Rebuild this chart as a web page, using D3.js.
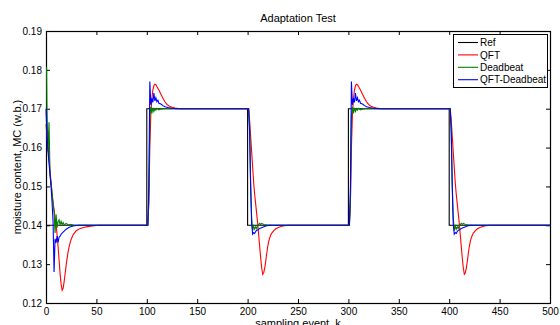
<!DOCTYPE html>
<html>
<head>
<meta charset="utf-8">
<script src="https://cdn.jsdelivr.net/npm/d3@7"></script>
<style>
body { margin: 0; background: #fff; }
svg { display: block; font-family: "Liberation Sans", Arial, sans-serif; }
</style>
</head>
<body>
<svg id="chart" width="560" height="325"></svg>
<script>
// reference set-point: level held from each step time
const stepK = [0, 100, 200, 300, 400, 500];
const refLevel = [0.14, 0.17, 0.14, 0.17, 0.14, 0.14];

// responses: [samples after step, moisture content]
const qftStart = [[0,0.166],[1,0.163],[2,0.16],[3,0.157],[4,0.154],[5,0.151],[6,0.148],[7,0.146],[8,0.144],[9,0.142],[10,0.1402],[11,0.1375],[12,0.1345],[13,0.131],[14,0.1275],[15,0.1248],[16,0.1233],[17,0.1238],[18,0.1255],[19,0.1276],[20,0.1297],[21,0.1316],[22,0.1333],[23,0.1346],[24,0.1356],[25,0.1364],[27,0.1376],[30,0.1386],[34,0.1392],[40,0.1396],[46,0.1398],[52,0.14]];
const qftRise = [[0,0.14],[1,0.14],[2,0.146],[3,0.16],[4,0.1685],[5,0.1725],[6,0.1748],[7,0.1759],[8,0.1763],[9,0.1762],[10,0.1757],[12,0.1748],[14,0.1737],[16,0.1727],[18,0.1718],[20,0.1711],[22,0.1707],[25,0.1704],[28,0.1702],[33,0.17]];
const qftFall = [[0,0.17],[1,0.17],[2,0.167],[3,0.163],[4,0.159],[5,0.155],[6,0.151],[7,0.148],[8,0.1455],[9,0.143],[10,0.1405],[11,0.1375],[12,0.1345],[13,0.1315],[14,0.129],[15,0.1274],[16,0.1278],[17,0.129],[18,0.1308],[19,0.1328],[20,0.1346],[21,0.1359],[22,0.1368],[23,0.1375],[24,0.138],[26,0.1386],[28,0.1391],[31,0.1395],[35,0.1398],[40,0.14]];

const dbStart = [[0,0.1805],[0.6,0.1805],[1,0.1695],[2,0.159],[3,0.1665],[4,0.153],[5,0.151],[6,0.1485],[7,0.1455],[8,0.1435],[9,0.138],[10,0.1428],[11,0.1394],[12,0.1409],[13,0.1414],[14,0.1401],[15,0.141],[16,0.1402],[17,0.1407],[18,0.1401],[20,0.1405],[22,0.1401],[25,0.1402],[28,0.14]];
const dbRise = [[0,0.14],[1,0.14],[2,0.146],[3,0.168],[4,0.1705],[5,0.1688],[6,0.1702],[7,0.1693],[8,0.17],[9,0.1696],[10,0.1701],[12,0.1697],[14,0.1699],[17,0.17]];
const dbFall = [[0,0.17],[1,0.17],[2,0.165],[3,0.151],[4,0.142],[5,0.1386],[6,0.1398],[7,0.139],[8,0.1396],[9,0.1392],[10,0.14],[11,0.1402],[12,0.1405],[13,0.1402],[14,0.1405],[16,0.1402],[19,0.1401],[24,0.14]];

const qdStart = [[0,0.17],[1,0.163],[2,0.159],[3,0.156],[4,0.153],[5,0.15],[6,0.146],[7,0.141],[8,0.128],[9,0.1365],[10,0.1355],[11,0.1372],[12,0.1356],[13,0.137],[14,0.1372],[15,0.1377],[16,0.138],[18,0.1385],[20,0.139],[23,0.1395],[27,0.1398],[32,0.14]];
const qdRise = [[0,0.14],[1,0.14],[2,0.15],[3,0.177],[4,0.171],[5,0.1727],[6,0.1716],[7,0.174],[8,0.172],[9,0.1728],[10,0.1718],[11,0.1722],[12,0.1714],[14,0.1712],[16,0.1708],[18,0.1705],[21,0.1703],[25,0.1701],[30,0.17]];
const qdFall = [[0,0.17],[1,0.17],[2,0.164],[3,0.15],[4,0.1405],[5,0.1377],[6,0.1381],[7,0.1379],[8,0.1384],[9,0.1387],[10,0.1388],[12,0.1392],[15,0.1395],[18,0.1398],[22,0.14]];

const seriesNames = ["Ref", "QFT", "Deadbeat", "QFT-Deadbeat"];
const seriesColors = ["#000000", "#ff0000", "#008000", "#0000ff"];
const xTicks = [0, 50, 100, 150, 200, 250, 300, 350, 400, 450, 500];
const yTicks = [0.12, 0.13, 0.14, 0.15, 0.16, 0.17, 0.18, 0.19];

const plotLeft = 46, plotRight = 550, plotTop = 31, plotBottom = 303;

const svg = d3.select('#chart');

const x = d3.scaleLinear().domain([0, 500]).range([plotLeft, plotRight]);
const y = d3.scaleLinear().domain([0.12, 0.19]).range([plotBottom, plotTop]);

// stitch the read responses onto each segment of the set-point
function buildSeries(start, rise, fall) {
   const pts = [];
   stepK.slice(0, -1).forEach(function(k0, i) {
      let resp = start;
      if (i > 0) resp = refLevel[i] > refLevel[i-1] ? rise : fall;
      resp.forEach(function(p) { pts.push([k0 + p[0], p[1]]); });
      pts.push([stepK[i+1], refLevel[i]]);
   });
   return pts;
}

const refPts = stepK.map(function(k, i) { return [k, refLevel[i]]; });
const series = [
   { pts: refPts, curve: d3.curveStepAfter },
   { pts: buildSeries(qftStart, qftRise, qftFall), curve: d3.curveLinear },
   { pts: buildSeries(dbStart, dbRise, dbFall), curve: d3.curveLinear },
   { pts: buildSeries(qdStart, qdRise, qdFall), curve: d3.curveLinear }
];

// axes, ticks pointing inward on all four sides
function styleAxis(g) {
   g.select('.domain').remove();
   g.selectAll('line').attr('stroke', '#000');
   g.selectAll('text').attr('fill', '#000').style('font-size', '10px')
      .style('font-family', '"Liberation Sans", Arial, sans-serif');
}

svg.append('rect')
   .attr('x', plotLeft + 0.5).attr('y', plotTop + 0.5)
   .attr('width', plotRight - plotLeft).attr('height', plotBottom - plotTop)
   .attr('fill', 'none')
   .attr('stroke', '#000')
   .attr('stroke-width', 1.2);

svg.append('g')
   .attr('transform', `translate(0,${plotBottom})`)
   .call(d3.axisBottom(x).tickValues(xTicks).tickSizeInner(-4).tickSizeOuter(0).tickPadding(5))
   .call(styleAxis);
svg.append('g')
   .attr('transform', `translate(0,${plotTop})`)
   .call(d3.axisTop(x).tickValues(xTicks).tickSizeInner(-4).tickSizeOuter(0).tickFormat(''))
   .call(styleAxis);
svg.append('g')
   .attr('transform', `translate(${plotLeft},0)`)
   .call(d3.axisLeft(y).tickValues(yTicks).tickSizeInner(-4).tickSizeOuter(0).tickPadding(4).tickFormat(d3.format('.2f')))
   .call(styleAxis);
svg.append('g')
   .attr('transform', `translate(${plotRight},0)`)
   .call(d3.axisRight(y).tickValues(yTicks).tickSizeInner(-4).tickSizeOuter(0).tickFormat(''))
   .call(styleAxis);

svg.append('clipPath').attr('id', 'clip')
   .append('rect')
      .attr('x', plotLeft - 1).attr('y', plotTop)
      .attr('width', plotRight - plotLeft + 1).attr('height', plotBottom - plotTop);

const plot = svg.append('g').attr('clip-path', 'url(#clip)');
series.forEach(function(s, i) {
   const line = d3.line()
      .x(function(d) { return x(d[0]); })
      .y(function(d) { return y(d[1]); })
      .curve(s.curve);
   plot.append('path')
      .attr('d', line(s.pts))
      .attr('fill', 'none')
      .attr('stroke', seriesColors[i])
      .attr('stroke-width', 1.1);
});

svg.append('text')
   .text('Adaptation Test')
   .attr('x', (plotLeft + plotRight) / 2).attr('y', 22)
   .attr('text-anchor', 'middle')
   .style('font-size', '11px');

svg.append('text')
   .text('sampling event, k')
   .attr('x', (plotLeft + plotRight) / 2).attr('y', 327)
   .attr('text-anchor', 'middle')
   .style('font-size', '11px');

svg.append('text')
   .text('moisture content, MC (w.b.)')
   .attr('transform', `translate(21,${(plotTop + plotBottom) / 2}) rotate(-90)`)
   .attr('text-anchor', 'middle')
   .style('font-size', '11px');

// legend
const legend = svg.append('g');
legend.append('rect')
   .attr('x', 453.5).attr('y', 34.5)
   .attr('width', 94).attr('height', 53)
   .attr('fill', '#fff')
   .attr('stroke', '#000')
   .attr('stroke-width', 1);
seriesNames.forEach(function(name, i) {
   const ly = 42.5 + i * 12.4;
   legend.append('line')
      .attr('x1', 458).attr('x2', 478)
      .attr('y1', ly).attr('y2', ly)
      .attr('stroke', seriesColors[i])
      .attr('stroke-width', 1.1);
   legend.append('text')
      .text(name)
      .attr('x', 480).attr('y', ly + 3.6)
      .style('font-size', '10px');
});
</script>
</body>
</html>
